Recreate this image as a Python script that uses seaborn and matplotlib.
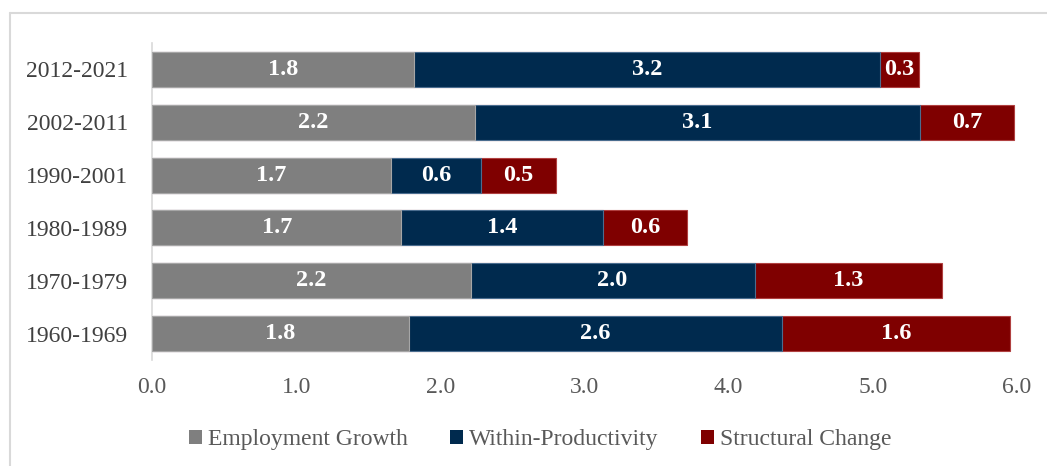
import matplotlib
matplotlib.use("Agg")
import matplotlib.pyplot as plt
from matplotlib.lines import Line2D
from matplotlib.patches import Patch
import seaborn as sns
import pandas as pd
import numpy as np

periods = ["2012-2021", "2002-2011", "1990-2001", "1980-1989", "1970-1979", "1960-1969"]
employment = [1.82, 2.24, 1.66, 1.73, 2.21, 1.78]
within = [3.23, 3.09, 0.62, 1.40, 1.97, 2.59]
structural = [0.27, 0.65, 0.52, 0.58, 1.30, 1.58]
emp_labels = ["1.8", "2.2", "1.7", "1.7", "2.2", "1.8"]
within_labels = ["3.2", "3.1", "0.6", "1.4", "2.0", "2.6"]
struct_labels = ["0.3", "0.7", "0.5", "0.6", "1.3", "1.6"]
series_names = ["Employment Growth", "Within-Productivity", "Structural Change"]
x_ticks = [0.0, 1.0, 2.0, 3.0, 4.0, 5.0, 6.0]

colors = ["#7f7f7f", "#002a4e", "#7f0000"]
edges = ["#a6a6a6", "#4a6d8f", "#b04040"]

sns.set_theme(style="white")
plt.rcParams["font.family"] = ["Liberation Serif", "DejaVu Serif"]

fig = plt.figure(figsize=(10.47, 4.66), dpi=100)
W, H = 1047, 466
ax = fig.add_axes([152 / W, 1 - 360 / H, (1017 - 152) / W, (360 - 43) / H])

cum = np.zeros(len(periods))
series_vals = [employment, within, structural]
series_labels = [emp_labels, within_labels, struct_labels]
for i, (vals, labs) in enumerate(zip(series_vals, series_labels)):
    d = pd.DataFrame({"Period": periods, "val": np.array(vals) + cum})
    sns.barplot(data=d, y="Period", x="val", order=periods, color=colors[i],
                width=0.66, ax=ax, zorder=3 - i, saturation=1,
                edgecolor=edges[i], linewidth=0.8)
    cum = cum + np.array(vals)

cum = np.zeros(len(periods))
for i, (vals, labs) in enumerate(zip(series_vals, series_labels)):
    for j, (v, lab) in enumerate(zip(vals, labs)):
        ax.text(cum[j] + v / 2, j, lab, ha="center", va="center", color="white",
                fontsize=17.5, fontweight="bold", zorder=10)
    cum = cum + np.array(vals)

ax.set_xlim(0, 6)
ax.set_ylim(5.5, -0.5)
ax.set_xticks(x_ticks)
ax.set_xticklabels([f"{t:.1f}" for t in x_ticks])
ax.set_xlabel("")
ax.set_ylabel("")
for s in ["top", "right", "bottom"]:
    ax.spines[s].set_visible(False)
ax.spines["left"].set_color("#d9d9d9")
ax.spines["left"].set_linewidth(1.2)
ax.tick_params(axis="x", length=0, pad=12, labelsize=17, labelcolor="#595959")
ax.tick_params(axis="y", length=0, pad=17, labelsize=17, labelcolor="#404040")
ax.grid(False)

handles = [Patch(facecolor=c, edgecolor="none") for c in colors]
leg = fig.legend(handles, series_names, loc="center", bbox_to_anchor=(540 / W, 1 - 440 / H),
                 ncol=3, frameon=False, fontsize=17, handlelength=0.55, handleheight=0.55,
                 handletextpad=0.25, columnspacing=1.8)
for t in leg.get_texts():
    t.set_color("#595959")

fig.add_artist(Line2D([10 / W, 10 / W], [0, 1 - 13 / H], transform=fig.transFigure,
                      color="#d9d9d9", linewidth=1.5))
fig.add_artist(Line2D([10 / W, 1], [1 - 13 / H, 1 - 13 / H], transform=fig.transFigure,
                      color="#d9d9d9", linewidth=1.5))

fig.savefig("out.png", dpi=100, facecolor="white")
